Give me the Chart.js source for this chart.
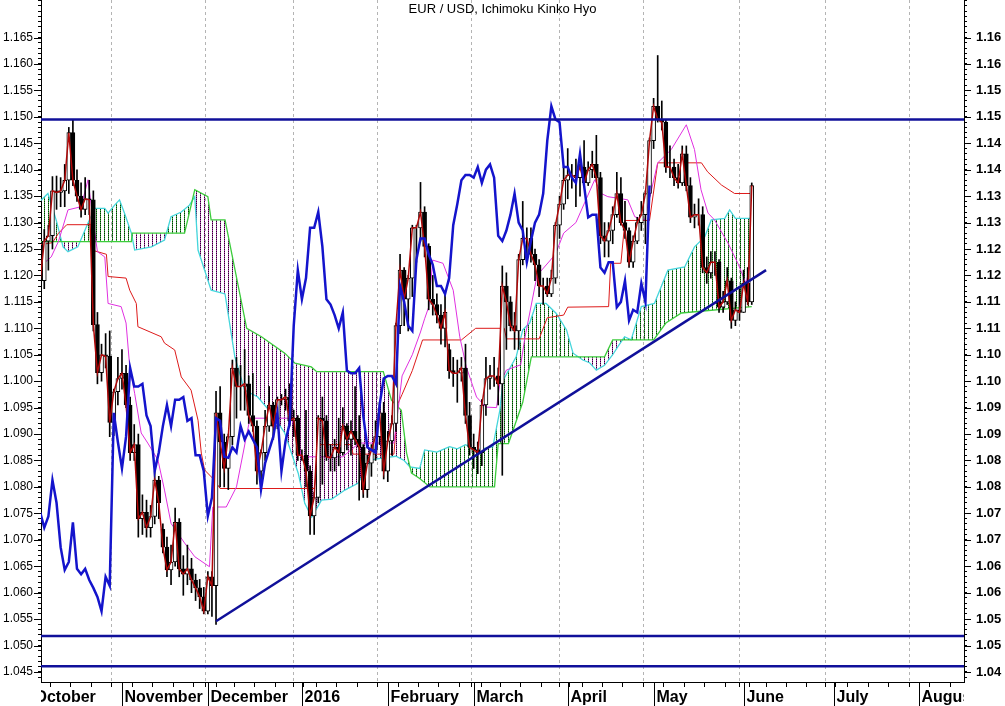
<!DOCTYPE html>
<html>
<head>
<meta charset="utf-8">
<script src="https://cdn.jsdelivr.net/npm/chart.js@4.4.0/dist/chart.umd.min.js"></script>
<style>
  html, body { margin: 0; padding: 0; background: #fff; }
  #wrap { width: 1005px; height: 706px; }
</style>
</head>
<body>
<div id="wrap"><canvas id="grafico"></canvas></div>
<script>
// Eje X: dias habiles contados desde el 1 de octubre de 2015 (dia 0)
var titulo = 'EUR / USD, Ichimoku Kinko Hyo';
var diasMes = [0, 22, 43, 66, 87, 108, 131, 152, 174, 196, 217];
var nombresMes = ['October', 'November', 'December', '2016', 'February', 'March', 'April', 'May', 'June', 'July', 'August'];
var primerLunes = 2;
var etiquetasDerecha = ['1.16', '1.16', '1.15', '1.15', '1.14', '1.14', '1.13', '1.13', '1.12', '1.12', '1.11', '1.11', '1.10',
  '1.10', '1.09', '1.09', '1.08', '1.08', '1.07', '1.07', '1.06', '1.06', '1.05', '1.05', '1.04'];

// Velas diarias (dia 0 .. 176)
var aperturas = [1.1175, 1.1195, 1.1215, 1.1190, 1.1265, 1.1275, 1.1360, 1.1357, 1.1360, 1.1380,
  1.1470, 1.1380, 1.1350, 1.1325, 1.1345, 1.1343, 1.1107, 1.1016, 1.1050, 1.1047,
  1.0922, 1.0980, 1.1005, 1.1015, 1.0955, 1.0865, 1.0880, 1.0740, 1.0752, 1.0723,
  1.0744, 1.0813, 1.0720, 1.0686, 1.0643, 1.0658, 1.0733, 1.0645, 1.0635, 1.0645,
  1.0624, 1.0609, 1.0592, 1.0565, 1.0630, 1.0613, 1.0940, 1.0885, 1.0835, 1.0895,
  1.1025, 1.0990, 1.0990, 1.0995, 1.0935, 1.0915, 1.0830, 1.0865, 1.0915, 1.0955,
  1.0915, 1.0965, 1.0965, 1.0970, 1.0925, 1.0930, 1.0860, 1.0860, 1.0830, 1.0745,
  1.0780, 1.0930, 1.0925, 1.0857, 1.0855, 1.0875, 1.0865, 1.0915, 1.0890, 1.0905,
  1.0890, 1.0875, 1.0795, 1.0845, 1.0870, 1.0895, 1.0940, 1.0830, 1.0887, 1.0920,
  1.1105, 1.1210, 1.1155, 1.1195, 1.1290, 1.1290, 1.1320, 1.1255, 1.1155, 1.1145,
  1.1125, 1.1100, 1.1060, 1.1020, 1.1015, 1.1015, 1.1025, 1.0935, 1.0875, 1.0870,
  1.0865, 1.0955, 1.1005, 1.1010, 1.1010, 1.0995, 1.1180, 1.1150, 1.1105, 1.1095,
  1.1230, 1.1270, 1.1270, 1.1240, 1.1220, 1.1180, 1.1180, 1.1165, 1.1195, 1.1295,
  1.1335, 1.1380, 1.1390, 1.1390, 1.1385, 1.1405, 1.1375, 1.1400, 1.1410, 1.1385,
  1.1275, 1.1265, 1.1285, 1.1315, 1.1355, 1.1300, 1.1285, 1.1225, 1.1265, 1.1300,
  1.1315, 1.1355, 1.1455, 1.1520, 1.1495, 1.1490, 1.1405, 1.1405, 1.1385, 1.1375,
  1.1430, 1.1370, 1.1310, 1.1315, 1.1315, 1.1215, 1.1205, 1.1225, 1.1225, 1.1140,
  1.1150, 1.1190, 1.1115, 1.1135, 1.1130, 1.1185, 1.1150];
var maximos = [1.1227, 1.1318, 1.1270, 1.1287, 1.1295, 1.1387, 1.1388, 1.1385, 1.1410, 1.1480,
  1.1495, 1.1400, 1.1375, 1.1385, 1.1380, 1.1360, 1.1130, 1.1070, 1.1090, 1.1095,
  1.0985, 1.1045, 1.1060, 1.1030, 1.0970, 1.0918, 1.0900, 1.0785, 1.0775, 1.0765,
  1.0830, 1.0820, 1.0730, 1.0705, 1.0690, 1.0760, 1.0740, 1.0670, 1.0690, 1.0665,
  1.0635, 1.0625, 1.0610, 1.0640, 1.0640, 1.0981, 1.0990, 1.0900, 1.0900, 1.1040,
  1.1045, 1.1030, 1.1060, 1.1010, 1.1015, 1.0925, 1.0870, 1.0945, 1.0990, 1.0960,
  1.0970, 1.0975, 1.0985, 1.0995, 1.0945, 1.0935, 1.0870, 1.0945, 1.0840, 1.0790,
  1.0935, 1.0970, 1.0935, 1.0880, 1.0890, 1.0930, 1.0950, 1.0920, 1.0925, 1.0990,
  1.0935, 1.0880, 1.0860, 1.0880, 1.0925, 1.0960, 1.0960, 1.0905, 1.0935, 1.1110,
  1.1240, 1.1215, 1.1200, 1.1295, 1.1295, 1.1376, 1.1330, 1.1260, 1.1200, 1.1165,
  1.1145, 1.1165, 1.1070, 1.1045, 1.1040, 1.1045, 1.1070, 1.0960, 1.0900, 1.0885,
  1.0965, 1.1045, 1.1030, 1.1045, 1.1025, 1.1218, 1.1205, 1.1160, 1.1130, 1.1240,
  1.1340, 1.1290, 1.1290, 1.1250, 1.1230, 1.1195, 1.1195, 1.1210, 1.1300, 1.1350,
  1.1405, 1.1440, 1.1410, 1.1420, 1.1410, 1.1455, 1.1415, 1.1435, 1.1465, 1.1395,
  1.1300, 1.1300, 1.1330, 1.1395, 1.1385, 1.1340, 1.1290, 1.1275, 1.1310, 1.1340,
  1.1360, 1.1460, 1.1535, 1.1616, 1.1530, 1.1495, 1.1445, 1.1420, 1.1410, 1.1445,
  1.1445, 1.1385, 1.1335, 1.1345, 1.1330, 1.1235, 1.1245, 1.1245, 1.1230, 1.1170,
  1.1215, 1.1195, 1.1150, 1.1175, 1.1210, 1.1215, 1.1375];
var minimos = [1.1152, 1.1152, 1.1185, 1.1175, 1.1210, 1.1250, 1.1325, 1.1330, 1.1330, 1.1355,
  1.1370, 1.1340, 1.1310, 1.1315, 1.1315, 1.1095, 1.0995, 1.1000, 1.1025, 1.0895,
  1.0897, 1.0955, 1.0985, 1.0950, 1.0850, 1.0850, 1.0705, 1.0710, 1.0705, 1.0705,
  1.0730, 1.0740, 1.0675, 1.0630, 1.0615, 1.0650, 1.0630, 1.0595, 1.0615, 1.0600,
  1.0585, 1.0570, 1.0560, 1.0560, 1.0555, 1.0540, 1.0800, 1.0800, 1.0795, 1.0880,
  1.0930, 1.0945, 1.0945, 1.0920, 1.0905, 1.0805, 1.0805, 1.0850, 1.0905, 1.0890,
  1.0910, 1.0955, 1.0945, 1.0915, 1.0895, 1.0850, 1.0850, 1.0800, 1.0710, 1.0710,
  1.0770, 1.0805, 1.0850, 1.0830, 1.0830, 1.0840, 1.0860, 1.0870, 1.0860, 1.0880,
  1.0775, 1.0780, 1.0780, 1.0820, 1.0850, 1.0880, 1.0815, 1.0810, 1.0860, 1.0905,
  1.1090, 1.1105, 1.1095, 1.1160, 1.1225, 1.1265, 1.1235, 1.1135, 1.1125, 1.1110,
  1.1070, 1.1065, 1.1005, 1.0990, 1.0960, 1.1000, 1.0920, 1.0860, 1.0835, 1.0825,
  1.0840, 1.0935, 1.0985, 1.0990, 1.0955, 1.0822, 1.1060, 1.1095, 1.1060, 1.1060,
  1.1220, 1.1235, 1.1225, 1.1190, 1.1160, 1.1145, 1.1160, 1.1160, 1.1185, 1.1270,
  1.1325, 1.1345, 1.1365, 1.1330, 1.1350, 1.1370, 1.1370, 1.1385, 1.1380, 1.1260,
  1.1235, 1.1235, 1.1260, 1.1310, 1.1295, 1.1270, 1.1215, 1.1215, 1.1260, 1.1285,
  1.1260, 1.1350, 1.1440, 1.1490, 1.1475, 1.1395, 1.1385, 1.1370, 1.1365, 1.1370,
  1.1360, 1.1300, 1.1290, 1.1295, 1.1205, 1.1185, 1.1195, 1.1200, 1.1130, 1.1130,
  1.1145, 1.1100, 1.1105, 1.1115, 1.1130, 1.1145, 1.1145];
var cierres = [1.1195, 1.1215, 1.1190, 1.1265, 1.1275, 1.1360, 1.1357, 1.1360, 1.1380, 1.1470,
  1.1380, 1.1350, 1.1325, 1.1345, 1.1343, 1.1107, 1.1016, 1.1050, 1.1047, 1.0922,
  1.0980, 1.1005, 1.1015, 1.0955, 1.0865, 1.0880, 1.0740, 1.0752, 1.0723, 1.0744,
  1.0813, 1.0770, 1.0686, 1.0643, 1.0658, 1.0733, 1.0645, 1.0635, 1.0645, 1.0624,
  1.0609, 1.0592, 1.0565, 1.0630, 1.0613, 1.0940, 1.0885, 1.0835, 1.0895, 1.1025,
  1.0990, 1.0990, 1.0995, 1.0935, 1.0915, 1.0830, 1.0865, 1.0915, 1.0955, 1.0915,
  1.0965, 1.0965, 1.0970, 1.0925, 1.0930, 1.0860, 1.0860, 1.0830, 1.0745, 1.0780,
  1.0930, 1.0925, 1.0857, 1.0855, 1.0875, 1.0865, 1.0915, 1.0890, 1.0905, 1.0890,
  1.0875, 1.0795, 1.0845, 1.0870, 1.0895, 1.0940, 1.0830, 1.0887, 1.0920, 1.1105,
  1.1210, 1.1155, 1.1195, 1.1290, 1.1290, 1.1320, 1.1255, 1.1155, 1.1145, 1.1125,
  1.1100, 1.1130, 1.1020, 1.1015, 1.1015, 1.1025, 1.0935, 1.0875, 1.0870, 1.0865,
  1.0955, 1.1005, 1.1010, 1.1010, 1.0995, 1.1180, 1.1150, 1.1105, 1.1095, 1.1230,
  1.1270, 1.1270, 1.1240, 1.1220, 1.1180, 1.1180, 1.1165, 1.1195, 1.1295, 1.1335,
  1.1380, 1.1390, 1.1390, 1.1385, 1.1405, 1.1375, 1.1400, 1.1410, 1.1385, 1.1275,
  1.1265, 1.1285, 1.1315, 1.1355, 1.1300, 1.1285, 1.1225, 1.1265, 1.1300, 1.1315,
  1.1355, 1.1455, 1.1520, 1.1495, 1.1490, 1.1405, 1.1405, 1.1385, 1.1375, 1.1430,
  1.1370, 1.1310, 1.1315, 1.1315, 1.1215, 1.1205, 1.1225, 1.1225, 1.1140, 1.1150,
  1.1190, 1.1115, 1.1135, 1.1130, 1.1185, 1.1150, 1.1370];

// Lineas Ichimoku (dia, valor)
var tenkanDias = [2, 4.7, 6.5, 8.8, 12, 13.7, 15, 16, 17.8, 18.6, 21.8, 23, 23.9, 25.1, 26.7, 28.3, 30.8, 32.4, 34, 37.3,
  39.8, 43.4, 44.2, 47.5, 50, 53.3, 63.5, 65.9, 76, 78, 80, 88.5, 89.5, 90.5, 93, 95, 96, 97, 98, 100.5,
  103, 104.6, 106.2, 108.7, 111, 113.6, 114.4, 116, 119.5, 120.5, 123.5, 128, 130, 133, 137.6, 139.2, 140.8, 145.7, 147.4, 149.8,
  153, 156.3, 160, 162, 163.6, 165.3, 166.9, 170.2, 172.6, 174.6, 176];
var tenkanValores = [1.1217, 1.1235, 1.1265, 1.1324, 1.1330, 1.1381, 1.1300, 1.1245, 1.1235, 1.1147, 1.1141, 1.1110, 1.1027, 1.0977, 1.0902, 1.0883, 1.0851, 1.0794, 1.0731, 1.0694,
  1.0668, 1.0649, 1.0762, 1.0762, 1.0800, 1.0930, 1.0930, 1.0857, 1.0857, 1.0870, 1.0883, 1.0883, 1.0945, 1.1010, 1.1050, 1.1093, 1.1118, 1.1140, 1.1229, 1.1223,
  1.1172, 1.1084, 1.1027, 1.0970, 1.0951, 1.0950, 1.0996, 1.1021, 1.1031, 1.1081, 1.1200, 1.1240, 1.1280, 1.1300, 1.1381, 1.1355, 1.1349, 1.1343, 1.1311, 1.1305,
  1.1413, 1.1438, 1.1485, 1.1438, 1.1362, 1.1318, 1.1305, 1.1261, 1.1223, 1.1185, 1.1235];

var kijunDias = [2, 5, 6.5, 8.5, 14.5, 14.6, 18.2, 18.6, 23, 23.9, 25.5, 25.9, 31.6, 32.4, 34.9, 36.5, 38.9, 40.6, 41.4, 42.2,
  44.6, 46, 69, 70.4, 78, 78.5, 88.5, 89.5, 90.5, 93, 95.5, 105, 108.5, 115.5, 116, 124, 126, 130, 131, 141,
  141.5, 144, 145, 151, 153, 163.7, 165.2, 168.6, 171.8, 176];
var kijunValores = [1.1258, 1.1262, 1.1280, 1.1296, 1.1296, 1.1248, 1.1240, 1.1198, 1.1195, 1.1172, 1.1147, 1.1103, 1.1084, 1.1072, 1.1059, 1.1008, 1.0983, 1.0926, 1.0864, 1.0832,
  1.0813, 1.0797, 1.0797, 1.0880, 1.0880, 1.0862, 1.0862, 1.0958, 1.0975, 1.1020, 1.1078, 1.1078, 1.1100, 1.1100, 1.1080, 1.1080, 1.1120, 1.1125, 1.1140, 1.1141,
  1.1223, 1.1223, 1.1304, 1.1304, 1.1413, 1.1413, 1.1396, 1.1371, 1.1355, 1.1355];

var senkouADias = [1.5, 3.9, 5.9, 7.6, 8.8, 11.2, 13.7, 15.3, 17.8, 18.6, 20.2, 21.4, 22.6, 24.3, 25.1, 29.2, 32.4, 34, 36.5, 38.5,
  39.8, 40.6, 43.8, 47.2, 49.6, 52, 55.2, 58.5, 61.8, 65.1, 66.7, 68.4, 70.8, 73.3, 76.5, 79.7, 83, 86, 89, 91,
  92.4, 94.8, 96, 99, 102.1, 104, 106, 108.7, 112.7, 114.4, 115.2, 118.4, 120, 121.7, 123.3, 125.7, 128.2, 130.7, 132.3, 134.7,
  136.3, 138, 140, 142, 143.3, 144.9, 146.5, 149, 152.2, 155.5, 159.6, 162, 164.5, 166.1, 169.4, 170.6, 172, 176];
var senkouAValores = [1.1337, 1.1355, 1.1305, 1.1254, 1.1245, 1.1254, 1.1299, 1.1327, 1.1327, 1.1318, 1.1333, 1.1343, 1.1318, 1.1280, 1.1248, 1.1254, 1.1267, 1.1311, 1.1320, 1.1333,
  1.1349, 1.1248, 1.1172, 1.1165, 1.1046, 1.0983, 1.0970, 1.0940, 1.0902, 1.0826, 1.0769, 1.0743, 1.0775, 1.0777, 1.0794, 1.0807, 1.0851, 1.0855, 1.0858, 1.0850,
  1.0838, 1.0835, 1.0870, 1.0866, 1.0876, 1.0872, 1.0880, 1.0870, 1.0876, 1.0945, 1.1002, 1.1046, 1.1097, 1.1110, 1.1147, 1.1147, 1.1128, 1.1097, 1.1053, 1.1040,
  1.1035, 1.1021, 1.1030, 1.1050, 1.1066, 1.1084, 1.1078, 1.1141, 1.1147, 1.1210, 1.1216, 1.1254, 1.1273, 1.1305, 1.1308, 1.1324, 1.1308, 1.1308];

var senkouBDias = [1.5, 24.3, 24.5, 37.3, 39.8, 43, 43.8, 47.2, 52.5, 56.1, 61.8, 64.3, 68.3, 69.6, 85.9, 87.9, 90.3, 91.6, 92.8, 94.8,
  97.3, 113.1, 114, 116.5, 120, 122.1, 140, 142, 152, 155, 158.8, 176];
var senkouBValores = [1.1264, 1.1264, 1.1280, 1.1280, 1.1362, 1.1349, 1.1305, 1.1305, 1.1100, 1.1084, 1.1053, 1.1034, 1.1027, 1.1018, 1.1018, 1.0964, 1.0945, 1.0864, 1.0826, 1.0816,
  1.0800, 1.0800, 1.0882, 1.0882, 1.0960, 1.1046, 1.1046, 1.1078, 1.1078, 1.1110, 1.1129, 1.1141];

var desplazamientoChikou = 25;

// Lineas dibujadas a mano en el original
var nivelesHorizontales = [1.1495, 1.0518, 1.0461];
var tendenciaDias = [45, 179.5];
var tendenciaValores = [1.0546, 1.1210];

var xMin = 2.2, xMax = 227.9;
var yMin = 1.0431, yMax = 1.1721;
var primeraEtiqueta = 1045, ultimaEtiqueta = 1165; // milesimas

function puntos(dias, valores) {
    return dias.map(function(d, i) { return { x: d, y: valores[i] }; });
}

// Patron de rayas verticales para la nube
var ctx = document.getElementById('grafico').getContext('2d');
function rayado(c1, c2) {
    var p = document.createElement('canvas');
    p.width = 4; p.height = 2;
    var g = p.getContext('2d');
    g.fillStyle = c1; g.fillRect(0, 0, 1, 1);
    g.fillStyle = c2; g.fillRect(0, 1, 1, 1);
    return ctx.createPattern(p, 'repeat');
}
var rayaVerde = rayado('#3cb03c', '#0a2a0a');
var rayaMorada = rayado('#b040b0', '#2a062a');

var mechas = [], cuerpos = [], coloresCuerpo = [], lineaCierre = [], chikou = [];
for (var i = 0; i < cierres.length; i++) {
    mechas.push({ x: i, y: [minimos[i], maximos[i]] });
    cuerpos.push({ x: i, y: [aperturas[i], cierres[i]] });
    coloresCuerpo.push(cierres[i] >= aperturas[i] ? '#ffffff' : '#000000');
    lineaCierre.push({ x: i, y: cierres[i] });
    chikou.push({ x: i - desplazamientoChikou, y: cierres[i] });
}

var datasets = [
    {
        type: 'line', label: 'Senkou A', data: puntos(senkouADias, senkouAValores),
        borderColor: '#45d6dc', borderWidth: 1.3, pointRadius: 0, order: 20, clip: 0,
        fill: { target: 1, above: rayaVerde, below: rayaMorada }
    },
    {
        type: 'line', label: 'Senkou B', data: puntos(senkouBDias, senkouBValores),
        borderColor: '#3ccc3c', borderWidth: 1.3, pointRadius: 0, order: 19, clip: 0, fill: false
    },
    {
        type: 'line', label: 'Kijun', data: puntos(kijunDias, kijunValores),
        borderColor: '#dd1a1a', borderWidth: 1, pointRadius: 0, order: 15, clip: 0, fill: false
    },
    {
        type: 'line', label: 'Tenkan', data: puntos(tenkanDias, tenkanValores),
        borderColor: '#e030e0', borderWidth: 1, pointRadius: 0, order: 14, clip: 0, fill: false
    },
    {
        type: 'bar', label: 'Mechas', data: mechas, backgroundColor: '#000', barThickness: 1,
        grouped: false, order: 10, clip: 0
    },
    {
        type: 'bar', label: 'Cuerpos', data: cuerpos, backgroundColor: coloresCuerpo, borderColor: '#000',
        borderWidth: 1, borderSkipped: false, barThickness: 4, grouped: false, order: 9, clip: 0
    },
    {
        type: 'line', label: 'Cierre', data: lineaCierre,
        borderColor: '#b00808', borderWidth: 1.5, pointRadius: 0, order: 8, clip: 0, fill: false
    },
    {
        type: 'line', label: 'Chikou', data: chikou,
        borderColor: '#1414cc', borderWidth: 2.5, pointRadius: 0, order: 5, clip: 0, fill: false
    },
    {
        type: 'line', label: 'Tendencia', data: puntos(tendenciaDias, tendenciaValores),
        borderColor: '#10109a', borderWidth: 2.5, pointRadius: 0, order: 1, clip: 0, fill: false
    }
];
nivelesHorizontales.forEach(function(v) {
    datasets.push({
        type: 'line', label: 'Nivel', data: [{ x: xMin, y: v }, { x: xMax, y: v }],
        borderColor: '#10109a', borderWidth: 2.5, pointRadius: 0, order: 1, clip: 0, fill: false
    });
});

function esInicioMes(v) { return diasMes.indexOf(v) >= 0; }

// Titulo, etiquetas de mes y marcas largas de los ejes
var decoracion = {
    id: 'decoracion',
    afterDraw: function(chart) {
        var c = chart.ctx, a = chart.chartArea, sx = chart.scales.x, sy = chart.scales.y;
        c.save();
        c.fillStyle = '#000';
        c.strokeStyle = '#000';
        c.lineWidth = 1;
        // marcas principales del eje Y (mas largas)
        for (var m = primeraEtiqueta; m <= ultimaEtiqueta; m += 5) {
            var py = Math.round(sy.getPixelForValue(m / 1000)) + 0.5;
            c.beginPath();
            c.moveTo(a.left - 7, py); c.lineTo(a.left, py);
            c.moveTo(a.right, py); c.lineTo(a.right + 7, py);
            c.stroke();
        }
        c.font = '13px "Liberation Sans", Arial, sans-serif';
        c.textAlign = 'center';
        c.textBaseline = 'top';
        c.fillText(titulo, (a.left + a.right) / 2, 3);
        c.beginPath();
        c.rect(a.left, a.bottom, a.right - a.left, chart.height - a.bottom);
        c.clip();
        c.font = 'bold 16px "Liberation Sans", Arial, sans-serif';
        c.textAlign = 'left';
        c.textBaseline = 'alphabetic';
        diasMes.forEach(function(d, k) {
            var px = Math.round(sx.getPixelForValue(d)) + 0.5;
            c.beginPath();
            c.moveTo(px, a.bottom);
            c.lineTo(px, chart.height);
            c.stroke();
            c.fillText(nombresMes[k], px + 2, chart.height - 4);
        });
        c.restore();
    }
};

function ticksY(scale) {
    var t = [];
    for (var m = 1044; m <= 1172; m++) t.push({ value: m / 1000 });
    scale.ticks = t;
}

new Chart(ctx, {
    type: 'line',
    data: { datasets: datasets },
    options: {
        responsive: true,
        maintainAspectRatio: false,
        animation: false,
        events: [],
        layout: { padding: 0 },
        plugins: { legend: { display: false }, tooltip: { enabled: false }, title: { display: false } },
        scales: {
            x: {
                type: 'linear', min: xMin, max: xMax, offset: false,
                afterBuildTicks: function(scale) {
                    var t = [];
                    for (var d = 0; d <= 230; d++) {
                        if (esInicioMes(d) || (d - primerLunes) % 5 === 0) t.push({ value: d });
                    }
                    scale.ticks = t.filter(function(k) { return k.value >= xMin && k.value <= xMax; });
                },
                afterFit: function(scale) { scale.height = 24; scale.paddingLeft = 0; scale.paddingRight = 0; },
                ticks: { display: false },
                grid: {
                    color: function(c) { return c.tick && esInicioMes(c.tick.value) ? '#b4b4b4' : 'rgba(0,0,0,0)'; },
                    lineWidth: 1, tickColor: '#000', tickLength: 5, drawTicks: true
                },
                border: { display: true, color: '#000', width: 1, dash: [3, 3] }
            },
            y: {
                type: 'linear', position: 'left', min: yMin, max: yMax,
                afterBuildTicks: ticksY,
                afterFit: function(scale) { scale.width = 41; scale.paddingTop = 0; scale.paddingBottom = 0; },
                ticks: {
                    autoSkip: false, padding: 5, color: '#000',
                    font: { family: '"Liberation Sans", Arial, sans-serif', size: 12 },
                    callback: function(v) {
                        var m = Math.round(v * 1000);
                        return (m % 5 === 0 && m <= ultimaEtiqueta) ? (m / 1000).toFixed(3) : '';
                    }
                },
                grid: { drawOnChartArea: false, tickLength: 3, tickColor: '#000' },
                border: { display: true, color: '#000', width: 1 }
            },
            y2: {
                type: 'linear', position: 'right', min: yMin, max: yMax,
                afterBuildTicks: ticksY,
                afterFit: function(scale) { scale.width = 41; scale.paddingTop = 0; scale.paddingBottom = 0; },
                ticks: {
                    autoSkip: false, padding: 9, color: '#000',
                    font: { family: '"Liberation Sans", Arial, sans-serif', size: 13, weight: 'bold' },
                    callback: function(v) {
                        var m = Math.round(v * 1000);
                        if (m % 5 !== 0 || m > ultimaEtiqueta) return '';
                        var k = Math.round((ultimaEtiqueta - m) / 5);
                        return etiquetasDerecha[k] || '';
                    }
                },
                grid: { drawOnChartArea: false, tickLength: 3, tickColor: '#000' },
                border: { display: true, color: '#000', width: 1 }
            }
        }
    },
    plugins: [decoracion]
});
</script>
</body>
</html>
